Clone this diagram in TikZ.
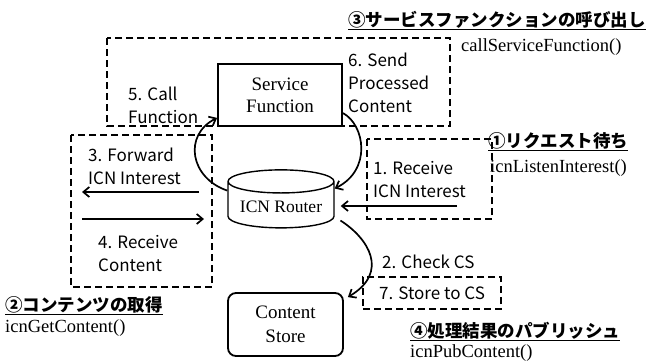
\documentclass[tikz,border=0pt]{standalone}
\usepackage{fontspec}
\setmainfont{Liberation Serif}
\newfontfamily\jpfont{Noto Sans CJK JP}
\usetikzlibrary{arrows.meta,shapes.geometric}

\begin{document}
\begin{tikzpicture}[x=1pt,y=-1pt,
    frame/.style={draw, line width=2.8pt, dash pattern=on 7pt off 4pt},
    box/.style={draw, line width=1.8pt, font=\fontsize{19}{22}\selectfont, align=center},
    lbl/.style={font=\jpfont\fontsize{17}{23}\selectfont, align=left, inner sep=0pt, anchor=west},
    ttl/.style={font=\jpfont\bfseries\fontsize{17.5}{20}\selectfont, inner sep=0pt, anchor=west},
    fn/.style={font=\fontsize{18.5}{20}\selectfont, inner sep=0pt, anchor=west},
    arr/.style={-{Straight Barb[length=6pt,width=10pt]}, line width=1.7pt}]
\useasboundingbox (0,0) rectangle (652,362);

% dashed frames round the steps
\draw[frame] (107,38) rectangle (450,126);
\draw[frame] (71,135) rectangle (212,287);
\draw[frame] (367,139) rectangle (492,219);

% blocks
\node[box, minimum width=124, minimum height=62] (svc) at (280,95) {Service\\Function};
\node[draw, cylinder, shape border rotate=90, aspect=0.26, line width=1.4pt,
      minimum width=106, minimum height=58, font=\fontsize{17.5}{20}\selectfont] (router) at (281,207) {ICN Router};
\node[box, rounded corners=8pt, minimum width=115, minimum height=63,
      font=\fontsize{19}{24}\selectfont] (cs) at (285.5,324.5) {Content\\Store};
\node[frame, lbl, anchor=center, minimum width=138, minimum height=32] (st7) at (432,293) {7. Store to CS};

% step labels
\node[lbl] (l5) at (128,105) {5. Call\\Function};
\node[lbl] (l6) at (348,83) {6. Send\\Processed\\Content};
\node[lbl] (l3) at (88,166) {3. Forward\\ICN Interest};
\node[lbl] (l4) at (98,254) {4. Receive\\Content};
\node[lbl] (l1) at (373,180) {1. Receive\\ICN Interest};
\node[lbl] (l2) at (382,262) {2. Check CS};

% function names
\node[ttl] (t3) at (348,20) {③サービスファンクションの呼び出し};
\node[fn] (f3) at (461,47) {callServiceFunction()};
\node[ttl] (t1) at (488,141) {①リクエスト待ち};
\node[fn] (f1) at (490,168) {icnListenInterest()};
\node[ttl] (t2) at (5,305) {②コンテンツの取得};
\node[fn] (f2) at (5,328) {icnGetContent()};
\node[ttl] (t4) at (410,331) {④処理結果のパブリッシュ};
\node[fn] (f4) at (410,353) {icnPubContent()};
\foreach \t in {t1,t2,t3,t4}
  \draw[line width=1.3pt] ([yshift=-1pt]\t.south west) -- ([yshift=-1pt]\t.south east);

% messages
\coordinate (in1) at (457,206);
\draw[arr] (in1) -- ([xshift=6pt]router.east |- in1);
\coordinate (fwdA) at (199,192);
\coordinate (fwdB) at (82,192);
\draw[arr] (fwdA) -- (fwdB);
\coordinate (rcvA) at (82,219);
\coordinate (rcvB) at (204,219);
\draw[arr] (rcvA) -- (rcvB);
\draw[arr] (router.163) .. controls (190,178) and (183,135) .. (svc.200);
\draw[arr] (svc.-16) .. controls (365,125) and (372,170) .. (router.19);
\draw[arr] ([xshift=9pt]router.-15) .. controls (368,238) and (390,272) .. ([xshift=4pt,yshift=-5pt]cs.north east);
\end{tikzpicture}
\end{document}
